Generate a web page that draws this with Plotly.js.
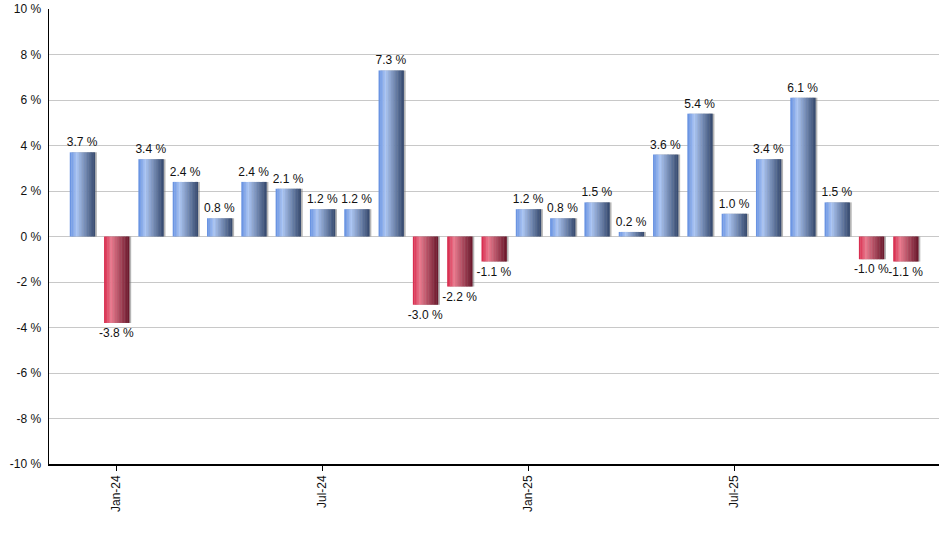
<!DOCTYPE html>
<html>
<head>
<meta charset="utf-8">
<script src="https://cdn.plot.ly/plotly-3.0.1.min.js"></script>
<style>
  body { margin: 0; background: #fff; }
  #chart { width: 940px; height: 550px; }
</style>
</head>
<body>
<div id="chart"></div>
<script>
// monthly returns, Dec-23 .. Dec-25
const months = [
  "Dec-23", "Jan-24", "Feb-24", "Mar-24", "Apr-24", "May-24", "Jun-24",
  "Jul-24", "Aug-24", "Sep-24", "Oct-24", "Nov-24", "Dec-24",
  "Jan-25", "Feb-25", "Mar-25", "Apr-25", "May-25", "Jun-25",
  "Jul-25", "Aug-25", "Sep-25", "Oct-25", "Nov-25", "Dec-25"
];
const returns = [
  3.7, -3.8, 3.4, 2.4, 0.8, 2.4, 2.1,
  1.2, 1.2, 7.3, -3.0, -2.2, -1.1,
  1.2, 0.8, 1.5, 0.2, 3.6, 5.4,
  1.0, 3.4, 6.1, 1.5, -1.0, -1.1
];
const yTicks = [-10, -8, -6, -4, -2, 0, 2, 4, 6, 8, 10];

const xs = months.map((m, i) => i);
const tickIdx = xs.filter((i) => /^(Jan|Jul)/.test(months[i]));

// gradient stops (position, rgb) for up / down bars
const blueStops = [[0, [98, 142, 224]], [0.28, [172, 198, 244]], [1, [52, 72, 108]]];
const redStops = [[0, [214, 36, 72]], [0.28, [234, 122, 142]], [1, [104, 22, 42]]];

function mix(stops, t) {
  for (let k = 1; k < stops.length; k++) {
    if (t <= stops[k][0]) {
      const a = stops[k - 1], b = stops[k];
      const f = (t - a[0]) / (b[0] - a[0]);
      const c = a[1].map((v, j) => Math.round(v + (b[1][j] - v) * f));
      return "rgb(" + c.join(",") + ")";
    }
  }
  return "rgb(" + stops[stops.length - 1][1].join(",") + ")";
}

const barW = 0.73;
const strips = 16;
const data = [];

// soft shadow to the right of each bar
data.push({
  type: "bar",
  x: xs,
  y: returns,
  width: barW,
  offset: -barW / 2 + 0.06,
  marker: { color: "rgba(120,120,120,0.55)", line: { width: 0 } },
  hoverinfo: "skip",
  showlegend: false,
});

// vertical strips to fake the horizontal gradient
for (let s = 0; s < strips; s++) {
  const t = (s + 0.5) / strips;
  data.push({
    type: "bar",
    x: xs,
    y: returns,
    width: (barW / strips) * 1.2,
    offset: -barW / 2 + (s * barW) / strips,
    marker: {
      color: returns.map((v) => mix(v >= 0 ? blueStops : redStops, t)),
      line: { width: 0 },
    },
    hoverinfo: "skip",
    showlegend: false,
  });
}

// labels
data.push({
  type: "bar",
  x: xs,
  y: returns,
  width: barW,
  marker: { color: "rgba(0,0,0,0)" },
  text: returns.map((v) => v.toFixed(1) + " %"),
  textposition: "outside",
  constraintext: "none",
  textfont: { family: "Liberation Sans, Arial, sans-serif", size: 12, color: "#111" },
  cliponaxis: false,
  hovertemplate: "%{customdata}: %{y:.1f} %<extra></extra>",
  customdata: months,
  showlegend: false,
});

const layout = {
  width: 940,
  height: 550,
  margin: { l: 49, r: 1, t: 9, b: 86 },
  paper_bgcolor: "#fff",
  plot_bgcolor: "#fff",
  barmode: "overlay",
  font: { family: "Liberation Sans, Arial, sans-serif", size: 12, color: "#111" },
  xaxis: {
    range: [-0.97, 24.97],
    tickvals: tickIdx,
    ticktext: tickIdx.map((i) => months[i]),
    tickangle: -90,
    ticks: "outside",
    ticklen: 5,
    tickcolor: "#000",
    showgrid: false,
    showline: true,
    linecolor: "#000",
    linewidth: 1.5,
    zeroline: false,
    fixedrange: true,
  },
  yaxis: {
    range: [-10, 10],
    tickvals: yTicks,
    ticktext: yTicks.map((v) => v + " %"),
    showgrid: true,
    gridcolor: "#c8c8c8",
    gridwidth: 1,
    zeroline: true,
    zerolinecolor: "#c8c8c8",
    zerolinewidth: 1,
    showline: true,
    linecolor: "#000",
    linewidth: 1.5,
    ticks: "",
    ticklabelstandoff: 4,
    fixedrange: true,
  },
};

Plotly.newPlot("chart", data, layout, { displayModeBar: false, staticPlot: true });
</script>
</body>
</html>
